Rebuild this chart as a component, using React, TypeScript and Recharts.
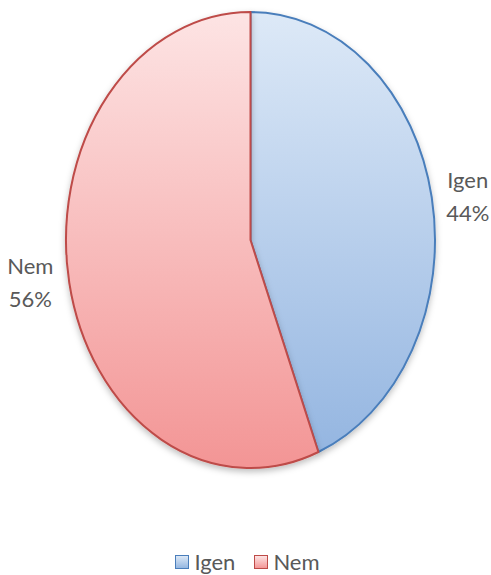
import { Legend, Pie, PieChart } from 'recharts'

document.body.style.margin = '0'

const categories = ['Igen', 'Nem']
const values = [44, 56]
const strokeColors = ['#4a7ebb', '#be4b48']
const gradientIds = ['gradIgen', 'gradNem']

const chartData = categories.map((name, i) => ({
	name,
	value: values[i],
	fill: `url(#${gradientIds[i]})`,
	stroke: strokeColors[i],
}))

// the reference pie is stretched vertically
const Y_RATIO = 228 / 184.5
const RAD = Math.PI / 180
const FONT = 'Lato, "Open Sans", sans-serif'

const EllipseSector = (props: any) => {
	const { cx, cy, outerRadius, startAngle, endAngle, fill, stroke } = props
	const rx = outerRadius
	const ry = outerRadius * Y_RATIO
	const x1 = cx + rx * Math.cos(startAngle * RAD)
	const y1 = cy - ry * Math.sin(startAngle * RAD)
	const x2 = cx + rx * Math.cos(endAngle * RAD)
	const y2 = cy - ry * Math.sin(endAngle * RAD)
	const large = Math.abs(endAngle - startAngle) > 180 ? 1 : 0
	const sweep = startAngle > endAngle ? 1 : 0
	const d = `M${cx},${cy} L${x1},${y1} A${rx},${ry} 0 ${large} ${sweep} ${x2},${y2} Z`
	return (
		<path
			d={d}
			fill={fill}
			stroke={stroke}
			strokeWidth={2}
			strokeLinejoin="round"
			filter="url(#pieShadow)"
		/>
	)
}

const renderLabel = (props: any) => {
	const { cx, cy, outerRadius, midAngle, percent, name } = props
	const rx = outerRadius
	const ry = outerRadius * Y_RATIO
	const x = cx + rx * Math.cos(midAngle * RAD)
	const y = cy - ry * Math.sin(midAngle * RAD)
	const lx = x + (Math.cos(midAngle * RAD) >= 0 ? 36 : -39)
	const ly = y
	return (
		<text
			x={lx}
			y={ly}
			textAnchor="middle"
			fill="#595959"
			fontFamily={FONT}
			fontSize={22}
		>
			<tspan x={lx} dy={-9}>
				{name}
			</tspan>
			<tspan x={lx} dy={33}>
				{`${Math.round(percent * 100)}%`}
			</tspan>
		</text>
	)
}

const CustomLegend = () => (
	<div
		style={{
			display: 'flex',
			justifyContent: 'center',
			gap: 19,
			fontFamily: FONT,
			fontSize: 22,
			color: '#595959',
			paddingLeft: 4,
		}}
	>
		{categories.map((c, i) => (
			<div key={c} style={{ display: 'flex', alignItems: 'center', gap: 5 }}>
				<div
					style={{
						width: 12,
						height: 12,
						border: `1.5px solid ${strokeColors[i]}`,
						background: i === 0 ? 'linear-gradient(#dce8f6, #95b7e1)' : 'linear-gradient(#fde3e3, #f49797)',
					}}
				/>
				<span>{c}</span>
			</div>
		))}
	</div>
)

export default function App() {
	return (
		<PieChart width={491} height={575} margin={{ top: 0, right: 0, bottom: 0, left: 0 }}>
			<defs>
				<linearGradient id="gradIgen" gradientUnits="userSpaceOnUse" x1="0" y1="12" x2="0" y2="468">
					<stop offset="0%" stopColor="#dde9f7" />
					<stop offset="100%" stopColor="#92b4e0" />
				</linearGradient>
				<linearGradient id="gradNem" gradientUnits="userSpaceOnUse" x1="0" y1="12" x2="0" y2="468">
					<stop offset="0%" stopColor="#fde4e4" />
					<stop offset="100%" stopColor="#f39595" />
				</linearGradient>
				<filter id="pieShadow" x="-10%" y="-10%" width="120%" height="120%">
					<feDropShadow dx="0" dy="3" stdDeviation="3" floodColor="#000" floodOpacity="0.25" />
				</filter>
			</defs>
			<Pie
				data={chartData}
				dataKey="value"
				nameKey="name"
				cx={250.5}
				cy={240}
				outerRadius={184.5}
				startAngle={90}
				endAngle={-270}
				label={renderLabel}
				labelLine={false}
				shape={EllipseSector}
				activeShape={EllipseSector}
				inactiveShape={EllipseSector}
				isAnimationActive={false}
			/>
			<Legend
				content={<CustomLegend />}
				wrapperStyle={{ top: 548, left: 0, width: 491 }}
			/>
		</PieChart>
	)
}
